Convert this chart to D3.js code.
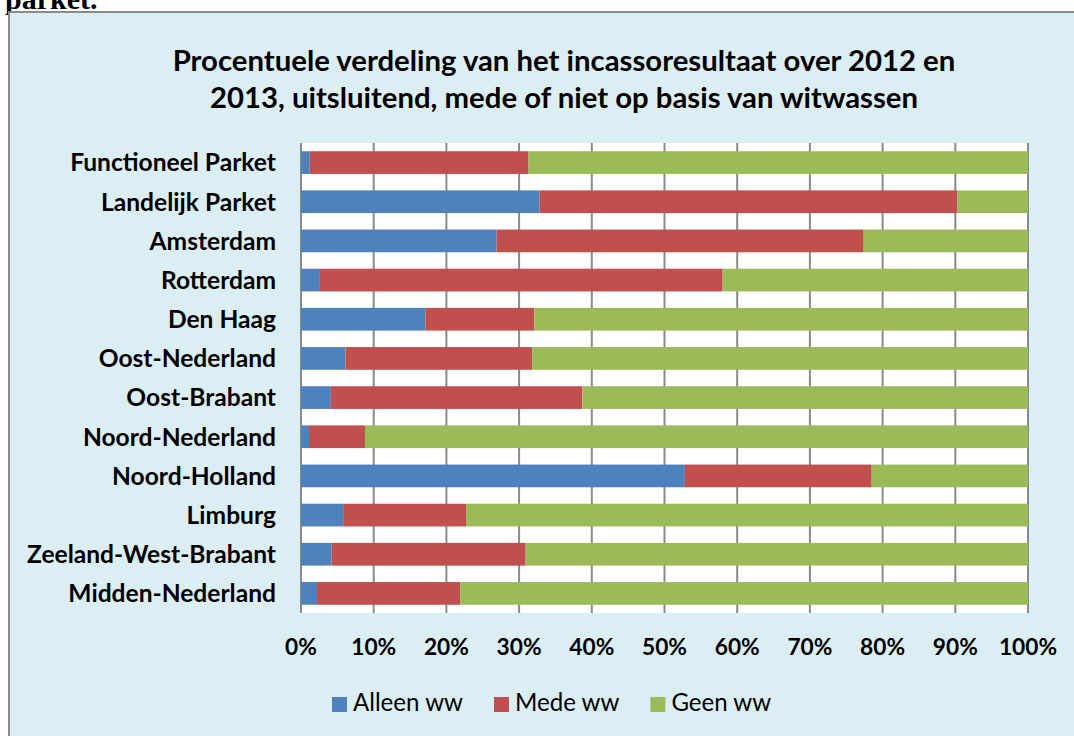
<!DOCTYPE html>
<html>
<head>
<meta charset="utf-8">
<script src="https://cdn.jsdelivr.net/npm/d3@7"></script>
<style>
    html, body { margin: 0; padding: 0; background: #fff; overflow: hidden; }
    svg { display: block; }
</style>
</head>
<body>
<svg id="chart" width="1074" height="736"></svg>
<script>
// ── Data ─────────────────────────────────────────────
const categories = [
    'Functioneel Parket', 'Landelijk Parket', 'Amsterdam', 'Rotterdam', 'Den Haag',
    'Oost-Nederland', 'Oost-Brabant', 'Noord-Nederland', 'Noord-Holland', 'Limburg',
    'Zeeland-West-Brabant', 'Midden-Nederland'
];
const alleenWw = [1.2, 32.8, 26.9, 2.6, 17.1, 6.1, 4.1, 1.1, 52.8, 5.8, 4.2, 2.2];
const medeWw   = [30.1, 57.5, 50.5, 55.4, 15.0, 25.7, 34.6, 7.7, 25.7, 16.9, 26.7, 19.7];
const geenWw   = [68.7, 9.7, 22.6, 42.0, 67.9, 68.2, 61.3, 91.2, 21.5, 77.3, 69.1, 78.1];
const seriesNames = ['Alleen ww', 'Mede ww', 'Geen ww'];
const seriesColors = ['#4F81BD', '#C0504D', '#9BBB59'];
const tickValues = [0, 10, 20, 30, 40, 50, 60, 70, 80, 90, 100];
const titleLines = [
    'Procentuele verdeling van het incassoresultaat over 2012 en',
    '2013, uitsluitend, mede of niet op basis van witwassen'
];

const W = 1074, H = 736;
const FONT = 'Lato, "Open Sans", sans-serif';
const svg = d3.select('#chart');

// size text so it spans a target width
function fitSize(text, weight, targetWidth) {
    const probe = svg.append('text')
        .style('font-family', FONT).style('font-weight', weight)
        .style('font-size', '20px').text(text);
    const w = probe.node().getComputedTextLength();
    probe.remove();
    return 20 * targetWidth / w;
}

// leftover caption of the page above the chart
svg.append('text')
    .attr('x', 5).attr('y', 9)
    .style('font-family', '"Liberation Serif", "DejaVu Serif", serif')
    .style('font-weight', 'bold')
    .style('font-size', '30px')
    .text('parket.');

// chart box
svg.append('rect')
    .attr('x', 9).attr('y', 12)
    .attr('width', W + 20).attr('height', H + 20)
    .attr('fill', '#DBEEF4')
    .attr('stroke', '#8a8a8a')
    .attr('stroke-width', 2);

// ── Title ────────────────────────────────────────────
const titleSize = fitSize(titleLines[0], 'bold', 783);
svg.append('g').selectAll('text')
    .data(titleLines)
    .enter()
    .append('text')
    .attr('x', 564)
    .attr('y', (d, i) => 71 + i * 37)
    .attr('text-anchor', 'middle')
    .style('font-family', FONT)
    .style('font-weight', 'bold')
    .style('font-size', titleSize + 'px')
    .style('fill', '#000')
    .text(d => d);

// ── Scales ───────────────────────────────────────────
const x = d3.scaleLinear().domain([0, 100]).range([301, 1028]);
const y = d3.scaleBand().domain(categories).range([143, 613])
    .paddingInner(0.42).paddingOuter(0.21);

// plot area
svg.append('rect')
    .attr('x', x(0)).attr('y', 143)
    .attr('width', x(100) - x(0)).attr('height', 470)
    .attr('fill', '#fff');

// gridlines
svg.append('g').selectAll('line')
    .data(tickValues)
    .enter()
    .append('line')
    .attr('x1', d => x(d)).attr('x2', d => x(d))
    .attr('y1', 143).attr('y2', 613)
    .attr('stroke', '#8a8a8a')
    .attr('stroke-width', 2);

// ── Stacked bars ─────────────────────────────────────
const rows = categories.map((c, i) => ({
    cat: c, 'Alleen ww': alleenWw[i], 'Mede ww': medeWw[i], 'Geen ww': geenWw[i]
}));
const stacked = d3.stack().keys(seriesNames)(rows);

svg.append('g').selectAll('g')
    .data(stacked)
    .enter()
    .append('g')
    .attr('fill', (d, i) => seriesColors[i])
    .selectAll('rect')
    .data(d => d)
    .enter()
    .append('rect')
    .attr('x', d => x(d[0]))
    .attr('width', d => Math.max(0, x(Math.min(d[1], 100)) - x(d[0])))
    .attr('y', d => y(d.data.cat))
    .attr('height', y.bandwidth());

// ── Category labels ──────────────────────────────────
const catSize = fitSize('Functioneel Parket', 'bold', 206);
svg.append('g').selectAll('text')
    .data(categories)
    .enter()
    .append('text')
    .attr('x', 276)
    .attr('y', d => y(d) + y.bandwidth() / 2)
    .attr('dy', '0.36em')
    .attr('text-anchor', 'end')
    .style('font-family', FONT)
    .style('font-weight', 'bold')
    .style('font-size', catSize + 'px')
    .text(d => d);

// ── X tick labels ────────────────────────────────────
const tickSize = fitSize('10%', 'bold', 45);
svg.append('g').selectAll('text')
    .data(tickValues)
    .enter()
    .append('text')
    .attr('x', d => x(d))
    .attr('y', 655)
    .attr('text-anchor', 'middle')
    .style('font-family', FONT)
    .style('font-weight', 'bold')
    .style('font-size', tickSize + 'px')
    .text(d => d + '%');

// ── Legend ───────────────────────────────────────────
const legSize = fitSize('Alleen ww', 'normal', 110);
const legend = svg.append('g');
let lx = 332;
seriesNames.forEach((name, i) => {
    legend.append('rect')
        .attr('x', lx).attr('y', 697)
        .attr('width', 15).attr('height', 15)
        .attr('fill', seriesColors[i]);
    const t = legend.append('text')
        .attr('x', lx + 21).attr('y', 711)
        .style('font-family', FONT)
        .style('font-size', legSize + 'px')
        .text(name);
    lx += 21 + t.node().getComputedTextLength() + 31;
});
</script>
</body>
</html>
